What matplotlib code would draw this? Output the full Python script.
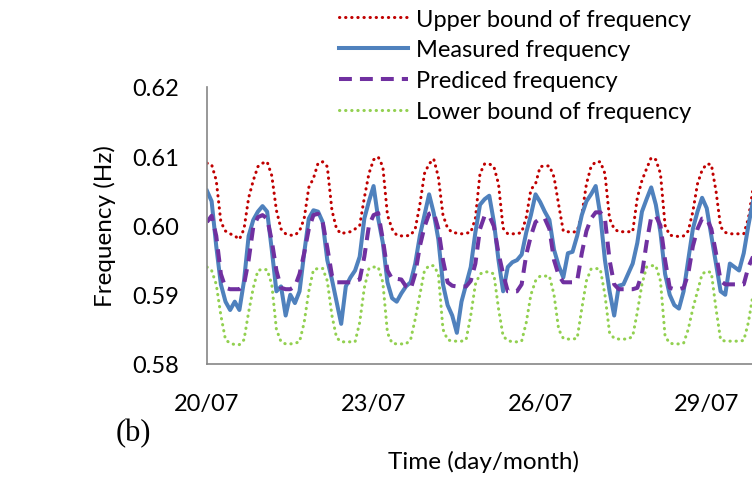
import numpy as np
import matplotlib
matplotlib.use("Agg")
import matplotlib.pyplot as plt

# time in hours from 20/07 00:00, one reading every 2 hours
hours = np.arange(0, 237, 2)

upper = [0.6090, 0.6088, 0.6065, 0.6005, 0.5992, 0.5988, 0.5985, 0.5980, 0.5995, 0.6040,
         0.6065, 0.6085, 0.6090, 0.6092, 0.6072, 0.6022, 0.5995, 0.5988, 0.5986, 0.5986,
         0.5992, 0.6010, 0.6055, 0.6068, 0.6090, 0.6092, 0.6085, 0.6022, 0.5995, 0.5988,
         0.5990, 0.5991, 0.5995, 0.6000, 0.6040, 0.6075, 0.6095, 0.6099, 0.6085, 0.6015,
         0.5995, 0.5986, 0.5985, 0.5985, 0.5986, 0.5995, 0.6030, 0.6075, 0.6089, 0.6096,
         0.6070, 0.6015, 0.5996, 0.5990, 0.5989, 0.5988, 0.5989, 0.5990, 0.6010, 0.6075,
         0.6089, 0.6089, 0.6085, 0.6060, 0.5996, 0.5988, 0.5988, 0.5988, 0.5990, 0.6012,
         0.6052, 0.6060, 0.6085, 0.6086, 0.6086, 0.6070, 0.6030, 0.5992, 0.5991, 0.5990,
         0.5992, 0.6015, 0.6060, 0.6085, 0.6092, 0.6092, 0.6075, 0.6010, 0.5995, 0.5991,
         0.5991, 0.5991, 0.5991, 0.6040, 0.6065, 0.6082, 0.6098, 0.6095, 0.6075, 0.6000,
         0.5986, 0.5985, 0.5984, 0.5985, 0.5992, 0.6020, 0.6060, 0.6080, 0.6089, 0.6088,
         0.6050, 0.5998, 0.5990, 0.5988, 0.5988, 0.5988, 0.5988, 0.6010, 0.6053]

measured = [0.6050, 0.6035, 0.5970, 0.5915, 0.5890, 0.5878, 0.5890, 0.5878, 0.5920, 0.5985,
            0.6008, 0.6020, 0.6028, 0.6020, 0.5965, 0.5905, 0.5912, 0.5870, 0.5900, 0.5888,
            0.5905, 0.5960, 0.6010, 0.6022, 0.6020, 0.6005, 0.5950, 0.5922, 0.5890, 0.5858,
            0.5912, 0.5925, 0.5935, 0.5955, 0.6010, 0.6035, 0.6057, 0.6010, 0.5975, 0.5918,
            0.5895, 0.5890, 0.5902, 0.5912, 0.5918, 0.5945, 0.5985, 0.6015, 0.6045, 0.6018,
            0.5980, 0.5915, 0.5885, 0.5870, 0.5845, 0.5890, 0.5915, 0.5940, 0.5990, 0.6030,
            0.6038, 0.6043, 0.6005, 0.5950, 0.5905, 0.5940, 0.5947, 0.5950, 0.5958, 0.5990,
            0.6015, 0.6045, 0.6034, 0.6020, 0.6008, 0.5965, 0.5942, 0.5925, 0.5960, 0.5962,
            0.5985, 0.6015, 0.6035, 0.6045, 0.6057, 0.6015, 0.5950, 0.5905, 0.5870, 0.5913,
            0.5915, 0.5930, 0.5945, 0.5975, 0.6020, 0.6038, 0.6055, 0.6030, 0.5990, 0.5930,
            0.5900, 0.5885, 0.5880, 0.5905, 0.5950, 0.5995, 0.6020, 0.6040, 0.6025, 0.5985,
            0.5945, 0.5905, 0.5900, 0.5945, 0.5940, 0.5935, 0.5960, 0.6000, 0.6035]

predicted = [0.6005, 0.6014, 0.5985, 0.5930, 0.5910, 0.5908, 0.5908, 0.5908, 0.5915, 0.5950,
             0.5998, 0.6012, 0.6015, 0.6010, 0.5978, 0.5935, 0.5910, 0.5908, 0.5908, 0.5912,
             0.5930, 0.5960, 0.5995, 0.6015, 0.6017, 0.6005, 0.5968, 0.5928, 0.5918, 0.5918,
             0.5918, 0.5918, 0.5920, 0.5922, 0.5955, 0.6000, 0.6015, 0.6018, 0.5980, 0.5935,
             0.5923, 0.5923, 0.5922, 0.5912, 0.5908, 0.5930, 0.5970, 0.5998, 0.6017, 0.6019,
             0.5995, 0.5950, 0.5918, 0.5913, 0.5912, 0.5912, 0.5912, 0.5920, 0.5945, 0.5995,
             0.6014, 0.6014, 0.5999, 0.5960, 0.5930, 0.5905, 0.5905, 0.5905, 0.5915, 0.5958,
             0.5985, 0.6005, 0.6010, 0.6010, 0.5995, 0.5950, 0.5928, 0.5918, 0.5918, 0.5918,
             0.5920, 0.5960, 0.5992, 0.6010, 0.6019, 0.6019, 0.6010, 0.5950, 0.5915, 0.5908,
             0.5908, 0.5908, 0.5908, 0.5910, 0.5930, 0.5975, 0.6012, 0.6014, 0.6000, 0.5950,
             0.5910, 0.5908, 0.5908, 0.5910, 0.5930, 0.5970, 0.5995, 0.6010, 0.6010, 0.5995,
             0.5960, 0.5920, 0.5915, 0.5915, 0.5915, 0.5915, 0.5915, 0.5940, 0.5955]

lower = [0.5940, 0.5935, 0.5915, 0.5870, 0.5835, 0.5830, 0.5828, 0.5828, 0.5835, 0.5875,
         0.5910, 0.5935, 0.5937, 0.5936, 0.5915, 0.5850, 0.5832, 0.5829, 0.5829, 0.5830,
         0.5832, 0.5860, 0.5905, 0.5936, 0.5938, 0.5938, 0.5920, 0.5870, 0.5838, 0.5832,
         0.5832, 0.5832, 0.5832, 0.5860, 0.5910, 0.5938, 0.5940, 0.5940, 0.5918, 0.5845,
         0.5830, 0.5829, 0.5829, 0.5829, 0.5835, 0.5865, 0.5900, 0.5935, 0.5942, 0.5942,
         0.5930, 0.5850, 0.5835, 0.5833, 0.5833, 0.5833, 0.5835, 0.5870, 0.5915, 0.5930,
         0.5933, 0.5933, 0.5930, 0.5880, 0.5840, 0.5834, 0.5832, 0.5832, 0.5833, 0.5860,
         0.5900, 0.5920, 0.5927, 0.5927, 0.5927, 0.5900, 0.5850, 0.5837, 0.5836, 0.5836,
         0.5837, 0.5880, 0.5920, 0.5937, 0.5938, 0.5937, 0.5900, 0.5845, 0.5837, 0.5836,
         0.5836, 0.5836, 0.5840, 0.5875, 0.5915, 0.5940, 0.5942, 0.5942, 0.5920, 0.5840,
         0.5830, 0.5829, 0.5829, 0.5830, 0.5850, 0.5880, 0.5905, 0.5930, 0.5934, 0.5932,
         0.5880, 0.5835, 0.5833, 0.5833, 0.5833, 0.5833, 0.5834, 0.5860, 0.5900]

tick_hours = [0, 72, 144, 216]
tick_labels = ["20/07", "23/07", "26/07", "29/07"]
y_ticks = [0.58, 0.59, 0.60, 0.61, 0.62]

plt.rcParams["font.family"] = ["Lato", "DejaVu Sans"]

fig = plt.figure(figsize=(7.52, 4.81), dpi=100)
ax = fig.add_axes([207 / 752, 1 - 365 / 481, 546 / 752, 277 / 481])

ax.plot(hours, upper, color="#C00000", lw=2.2, linestyle=(0, (0.1, 1.9)),
        dash_capstyle="round", label="Upper bound of frequency")
ax.plot(hours, measured, color="#4F81BD", lw=2.9, label="Measured frequency")
ax.plot(hours, predicted, color="#7030A0", lw=2.9, linestyle=(0, (3.2, 2.0)),
        label="Prediced frequency")
ax.plot(hours, lower, color="#92D050", lw=2.2, linestyle=(0, (0.1, 1.9)),
        dash_capstyle="round", label="Lower bound of frequency")

ax.set_xlim(0, 236)
ax.set_ylim(0.58, 0.62)
ax.set_xticks(tick_hours)
ax.set_xticklabels(tick_labels)
ax.set_yticks(y_ticks)
ax.set_yticklabels([f"{v:.2f}" for v in y_ticks])
ax.tick_params(length=0, labelsize=17)
ax.tick_params(axis="x", pad=21)
ax.tick_params(axis="y", pad=20)

for s in ["top", "right"]:
    ax.spines[s].set_visible(False)
for s in ["left", "bottom"]:
    ax.spines[s].set_color("#868686")
    ax.spines[s].set_linewidth(1.2)

ax.set_ylabel("Frequency (Hz)", fontsize=17.5, labelpad=12)
fig.text(483 / 752, 1 - 462 / 481, "Time (day/month)", fontsize=17.5,
         ha="center", va="center")
fig.text(116 / 752, 1 - 434 / 481, "(b)", fontsize=22, family="Liberation Serif",
         ha="left", va="center")

fig.legend(loc="upper left", bbox_to_anchor=(324 / 752, 1.012), frameon=False,
           fontsize=17, handlelength=2.9, handletextpad=0.34, labelspacing=0.42,
           borderpad=0.15)

fig.savefig("out.png", dpi=100)
